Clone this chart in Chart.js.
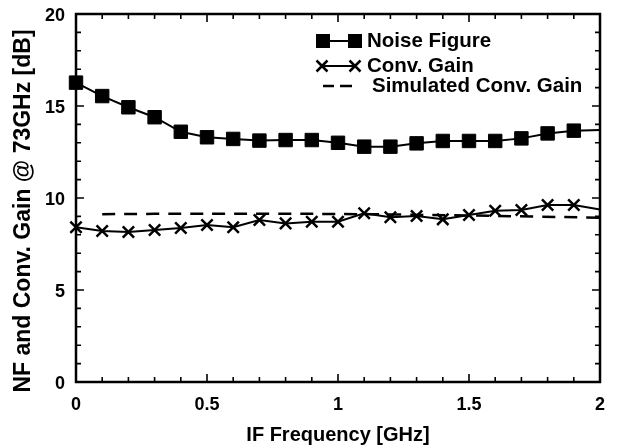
<!DOCTYPE html>
<html><head><meta charset="utf-8">
<script src="https://cdn.jsdelivr.net/npm/chart.js@4/dist/chart.umd.min.js"></script>
<style>html,body{margin:0;padding:0;background:#fff}#wrap{width:617px;height:447px}</style>
</head><body><div id="wrap"><canvas id="c" width="617" height="447"></canvas></div>
<script>
const freq = [0,0.1,0.2,0.3,0.4,0.5,0.6,0.7,0.8,0.9,1.0,1.1,1.2,1.3,1.4,1.5,1.6,1.7,1.8,1.9,2.0];
const noiseFigure = [16.27,15.54,14.93,14.39,13.6,13.3,13.21,13.12,13.15,13.15,13.0,12.79,12.79,12.97,13.1,13.1,13.1,13.24,13.51,13.66,13.7];
const convGain = [8.41,8.21,8.15,8.26,8.37,8.53,8.41,8.8,8.62,8.71,8.71,9.17,8.95,9.02,8.84,9.08,9.31,9.35,9.62,9.62,9.38];
const simFreq = [0.1,0.5,1.0,1.5,2.0];
const simGain = [9.12,9.15,9.13,9.05,8.93];
const xTicks = [0,0.5,1,1.5,2];
const yTicks = [0,5,10,15,20];
const legendLabels = ['Noise Figure','Conv. Gain','Simulated Conv. Gain'];
const xTitle = 'IF Frequency [GHz]';
const yTitle = 'NF and Conv. Gain @ 73GHz [dB]';

const FONT = "'Liberation Sans', Arial, sans-serif";
const toXY = (xs, ys) => xs.map((x,i)=>({x, y: ys[i]}));
const lastHidden = (r) => (ctx) => ctx.dataIndex === ctx.dataset.data.length - 1 ? 0 : r;

const framePlugin = {
  id: 'frame',
  afterDraw(chart) {
    const {ctx, chartArea: a, scales: {x, y}} = chart;
    ctx.save();
    ctx.strokeStyle = '#000';
    ctx.lineWidth = 1.6;
    ctx.beginPath();
    for (let i = 0; i <= 20; i++) {
      const v = i / 10;
      const px = x.getPixelForValue(v);
      const len = (i % 5 === 0) ? 8 : 5;
      ctx.moveTo(px, a.bottom); ctx.lineTo(px, a.bottom - len);
      ctx.moveTo(px, a.top); ctx.lineTo(px, a.top + len);
    }
    for (let v = 0; v <= 20; v++) {
      const py = y.getPixelForValue(v);
      const len = (v % 5 === 0) ? 8 : 5;
      ctx.moveTo(a.left, py); ctx.lineTo(a.left + len, py);
      ctx.moveTo(a.right, py); ctx.lineTo(a.right - len, py);
    }
    ctx.stroke();
    ctx.lineWidth = 2.5;
    ctx.strokeRect(a.left, a.top, a.right - a.left, a.bottom - a.top);

    // legend
    ctx.fillStyle = '#000';
    ctx.font = 'bold 20.5px ' + FONT;
    ctx.textBaseline = 'middle';
    ctx.textAlign = 'left';
    let ry = 41;
    ctx.lineWidth = 2;
    ctx.beginPath(); ctx.moveTo(323, ry); ctx.lineTo(355, ry); ctx.stroke();
    ctx.fillRect(316, ry - 7, 14, 14);
    ctx.fillRect(348, ry - 7, 14, 14);
    ctx.fillText(legendLabels[0], 367, ry);
    ry = 66;
    ctx.beginPath(); ctx.moveTo(322, ry); ctx.lineTo(355, ry); ctx.stroke();
    ctx.lineWidth = 2.5;
    [322, 355].forEach(cx => {
      ctx.beginPath();
      ctx.moveTo(cx - 5.5, ry - 5.5); ctx.lineTo(cx + 5.5, ry + 5.5);
      ctx.moveTo(cx - 5.5, ry + 5.5); ctx.lineTo(cx + 5.5, ry - 5.5);
      ctx.stroke();
    });
    ctx.fillText(legendLabels[1], 367, ry);
    ry = 86;
    ctx.lineWidth = 2.5;
    ctx.beginPath();
    ctx.moveTo(323, ry); ctx.lineTo(334, ry);
    ctx.moveTo(340, ry); ctx.lineTo(352, ry);
    ctx.stroke();
    ctx.fillText(legendLabels[2], 372, ry);

    // y title
    ctx.save();
    ctx.translate(24, 211);
    ctx.rotate(-Math.PI / 2);
    ctx.textAlign = 'center';
    ctx.font = 'bold 23px ' + FONT;
    ctx.fillText(yTitle, 0, 0);
    ctx.restore();
    ctx.restore();
  }
};

new Chart(document.getElementById('c'), {
  type: 'scatter',
  data: {
    datasets: [
      {
        label: legendLabels[0],
        data: toXY(freq, noiseFigure),
        showLine: true,
        borderColor: '#000', backgroundColor: '#000',
        borderWidth: 2,
        pointStyle: 'rect',
        pointRadius: lastHidden(9.5),
        pointBorderWidth: 1,
        clip: false
      },
      {
        label: legendLabels[1],
        data: toXY(freq, convGain),
        showLine: true,
        borderColor: '#000', backgroundColor: '#000',
        borderWidth: 2,
        pointStyle: 'crossRot',
        pointRadius: lastHidden(8),
        pointBorderWidth: 2.5,
        clip: false
      },
      {
        label: legendLabels[2],
        data: toXY(simFreq, simGain),
        showLine: true,
        borderColor: '#000',
        borderWidth: 2.5,
        borderDash: [13, 9],
        pointRadius: 0,
        tension: 0.3
      }
    ]
  },
  options: {
    responsive: false,
    animation: false,
    devicePixelRatio: 1,
    layout: { padding: { top: 14, right: 17, left: 0, bottom: 0 } },
    plugins: { legend: { display: false }, tooltip: { enabled: false } },
    scales: {
      x: {
        type: 'linear', min: 0, max: 2,
        afterBuildTicks: (s) => { s.ticks = xTicks.map(v => ({value: v})); },
        afterFit: (s) => { s.height = 65; s.paddingLeft = 0; s.paddingRight = 0; },
        grid: { display: false, drawTicks: false },
        border: { display: false },
        ticks: { color: '#000', padding: 12, font: { family: FONT, size: 18, weight: 'bold' }, maxRotation: 0,
                 callback: (v) => String(v) },
        title: { display: true, text: xTitle, color: '#000', font: { family: FONT, size: 20, weight: 'bold' }, padding: { top: 0, bottom: 0 } }
      },
      y: {
        type: 'linear', min: 0, max: 20,
        afterBuildTicks: (s) => { s.ticks = yTicks.map(v => ({value: v})); },
        afterFit: (s) => { s.width = 76; s.paddingTop = 0; s.paddingBottom = 0; },
        grid: { display: false, drawTicks: false },
        border: { display: false },
        ticks: { color: '#000', padding: 11, labelOffset: 2, font: { family: FONT, size: 18, weight: 'bold' }, callback: (v) => String(v) }
      }
    }
  },
  plugins: [framePlugin]
});
</script>
</body></html>
